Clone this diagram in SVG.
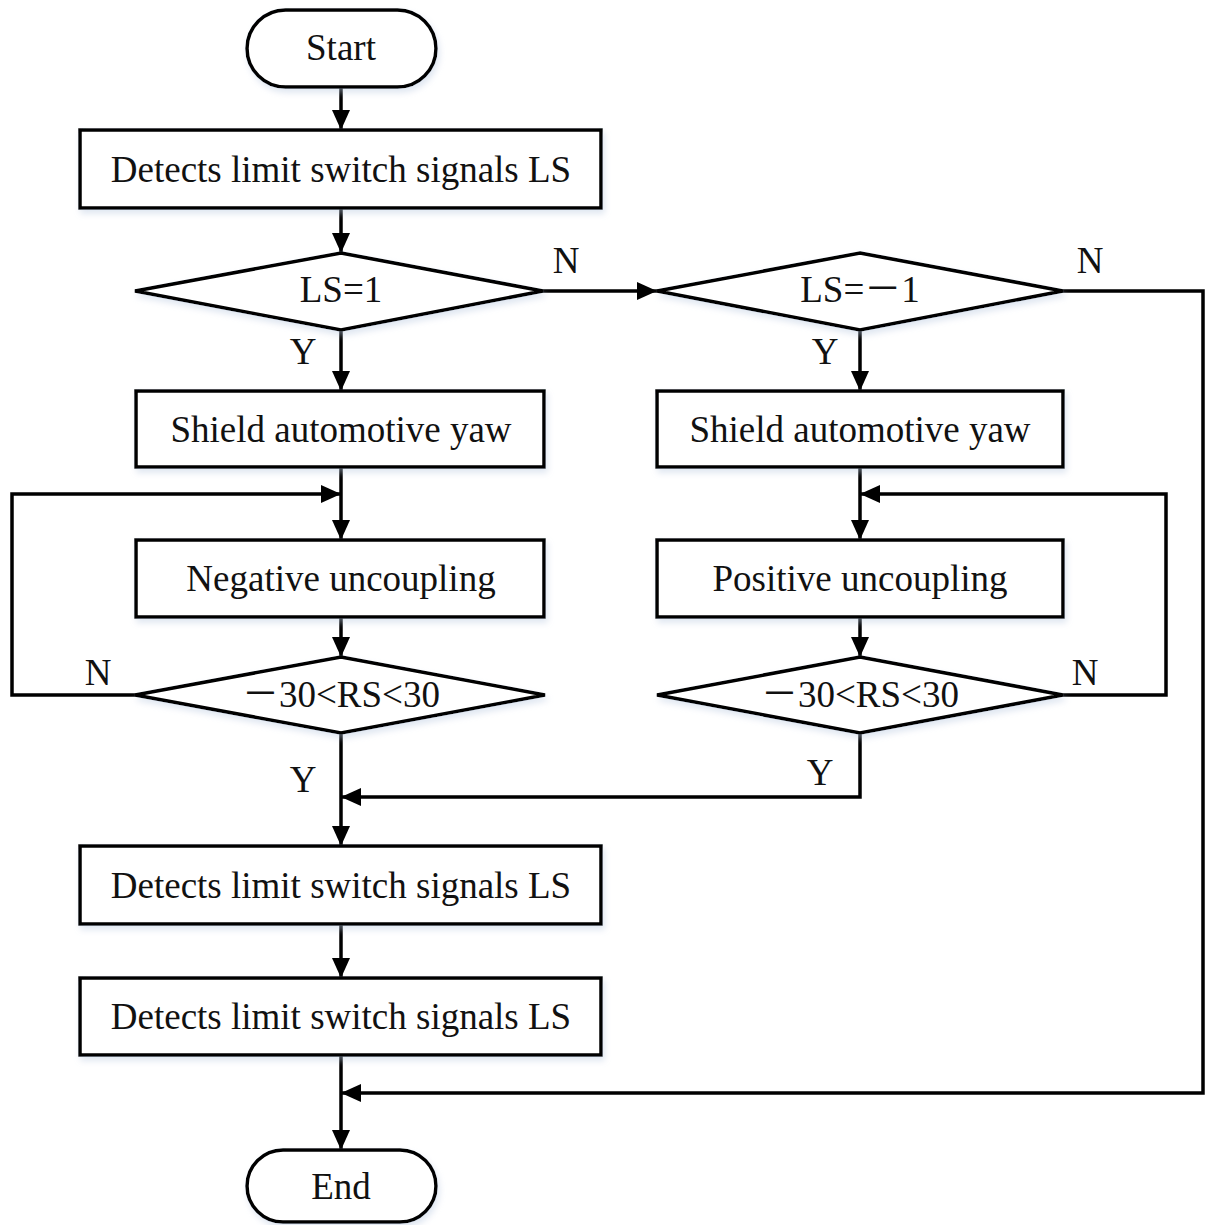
<svg xmlns="http://www.w3.org/2000/svg" width="1208" height="1225" viewBox="0 0 1208 1225">
<style>
.s{fill:#fff;stroke:#000;stroke-width:3.5;filter:url(#sh)}
.c{fill:none;stroke:#000;stroke-width:3.5}
.t{font-family:"Liberation Serif","Times New Roman",serif;font-size:37px;fill:#111;text-anchor:middle}
.cj{font-family:"Liberation Serif","Noto Sans CJK SC",serif}
</style>
<defs>
<filter id="sh" x="-10%" y="-20%" width="120%" height="150%">
<feGaussianBlur in="SourceAlpha" stdDeviation="3"/>
<feOffset dx="2" dy="4" result="b"/>
<feFlood flood-color="#b8c8e0" flood-opacity="0.45"/>
<feComposite in2="b" operator="in"/>
<feMerge><feMergeNode/><feMergeNode in="SourceGraphic"/></feMerge>
</filter>
<marker id="a" markerUnits="userSpaceOnUse" markerWidth="20" markerHeight="18" refX="20" refY="9" orient="auto">
<path d="M0,0 L20,9 L0,18 z" fill="#000"/>
</marker>
</defs>
<rect width="1208" height="1225" fill="#fff"/>

<g id="connectors">
<line class="c" x1="341" y1="87" x2="341" y2="130" marker-end="url(#a)"/>
<line class="c" x1="341" y1="208" x2="341" y2="253" marker-end="url(#a)"/>
<line class="c" x1="543" y1="291" x2="657" y2="291" marker-end="url(#a)"/>
<line class="c" x1="341" y1="330" x2="341" y2="391" marker-end="url(#a)"/>
<line class="c" x1="860" y1="330" x2="860" y2="391" marker-end="url(#a)"/>
<line class="c" x1="341" y1="467" x2="341" y2="540" marker-end="url(#a)"/>
<line class="c" x1="860" y1="467" x2="860" y2="540" marker-end="url(#a)"/>
<polyline class="c" points="135,695 12,695 12,494 341,494" marker-end="url(#a)"/>
<polyline class="c" points="1063,695 1166,695 1166,494 860,494" marker-end="url(#a)"/>
<line class="c" x1="341" y1="617" x2="341" y2="657" marker-end="url(#a)"/>
<line class="c" x1="860" y1="617" x2="860" y2="657" marker-end="url(#a)"/>
<line class="c" x1="341" y1="733" x2="341" y2="846" marker-end="url(#a)"/>
<polyline class="c" points="860,733 860,797 341,797" marker-end="url(#a)"/>
<line class="c" x1="341" y1="924" x2="341" y2="978" marker-end="url(#a)"/>
<line class="c" x1="341" y1="1055" x2="341" y2="1150" marker-end="url(#a)"/>
<polyline class="c" points="1063,291 1203,291 1203,1093 341,1093" marker-end="url(#a)"/>
<text class="t" x="566" y="273">N</text>
<text class="t" x="1090" y="273">N</text>
<text class="t" x="303" y="364">Y</text>
<text class="t" x="825" y="364">Y</text>
<text class="t" x="98" y="685">N</text>
<text class="t" x="1085" y="685">N</text>
<text class="t" x="303" y="792">Y</text>
<text class="t" x="820" y="785">Y</text>
</g>

<g id="start">
<rect class="s" x="247" y="10" width="189" height="77" rx="38.5"/>
<text class="t" x="341" y="60">Start</text>
</g>
<g id="detect1">
<rect class="s" x="80" y="130" width="521" height="78"/>
<text class="t" x="341" y="182">Detects limit switch signals LS</text>
</g>
<g id="ls1">
<polygon class="s" points="341,253 543,291 341,330 135,291"/>
<text class="t" x="341" y="302">LS=1</text>
</g>
<g id="lsm1">
<polygon class="s" points="860,253 1063,291 860,330 657,291"/>
<text class="t cj" x="860" y="302">LS=－1</text>
</g>
<g id="shield1">
<rect class="s" x="136" y="391" width="408" height="76"/>
<text class="t" x="341" y="442">Shield automotive yaw</text>
</g>
<g id="shield2">
<rect class="s" x="657" y="391" width="406" height="76"/>
<text class="t" x="860" y="442">Shield automotive yaw</text>
</g>
<g id="neg">
<rect class="s" x="136" y="540" width="408" height="77"/>
<text class="t" x="341" y="591">Negative uncoupling</text>
</g>
<g id="pos">
<rect class="s" x="657" y="540" width="406" height="77"/>
<text class="t" x="860" y="591">Positive uncoupling</text>
</g>
<g id="rs1">
<polygon class="s" points="341,657 545,695 341,733 135,695"/>
<text class="t cj" x="341" y="707">－30&lt;RS&lt;30</text>
</g>
<g id="rs2">
<polygon class="s" points="860,657 1063,695 860,733 657,695"/>
<text class="t cj" x="860" y="707">－30&lt;RS&lt;30</text>
</g>
<g id="detect2">
<rect class="s" x="80" y="846" width="521" height="78"/>
<text class="t" x="341" y="898">Detects limit switch signals LS</text>
</g>
<g id="detect3">
<rect class="s" x="80" y="978" width="521" height="77"/>
<text class="t" x="341" y="1029">Detects limit switch signals LS</text>
</g>
<g id="end">
<rect class="s" x="247" y="1150" width="189" height="72" rx="36"/>
<text class="t" x="341" y="1199">End</text>
</g>
</svg>
